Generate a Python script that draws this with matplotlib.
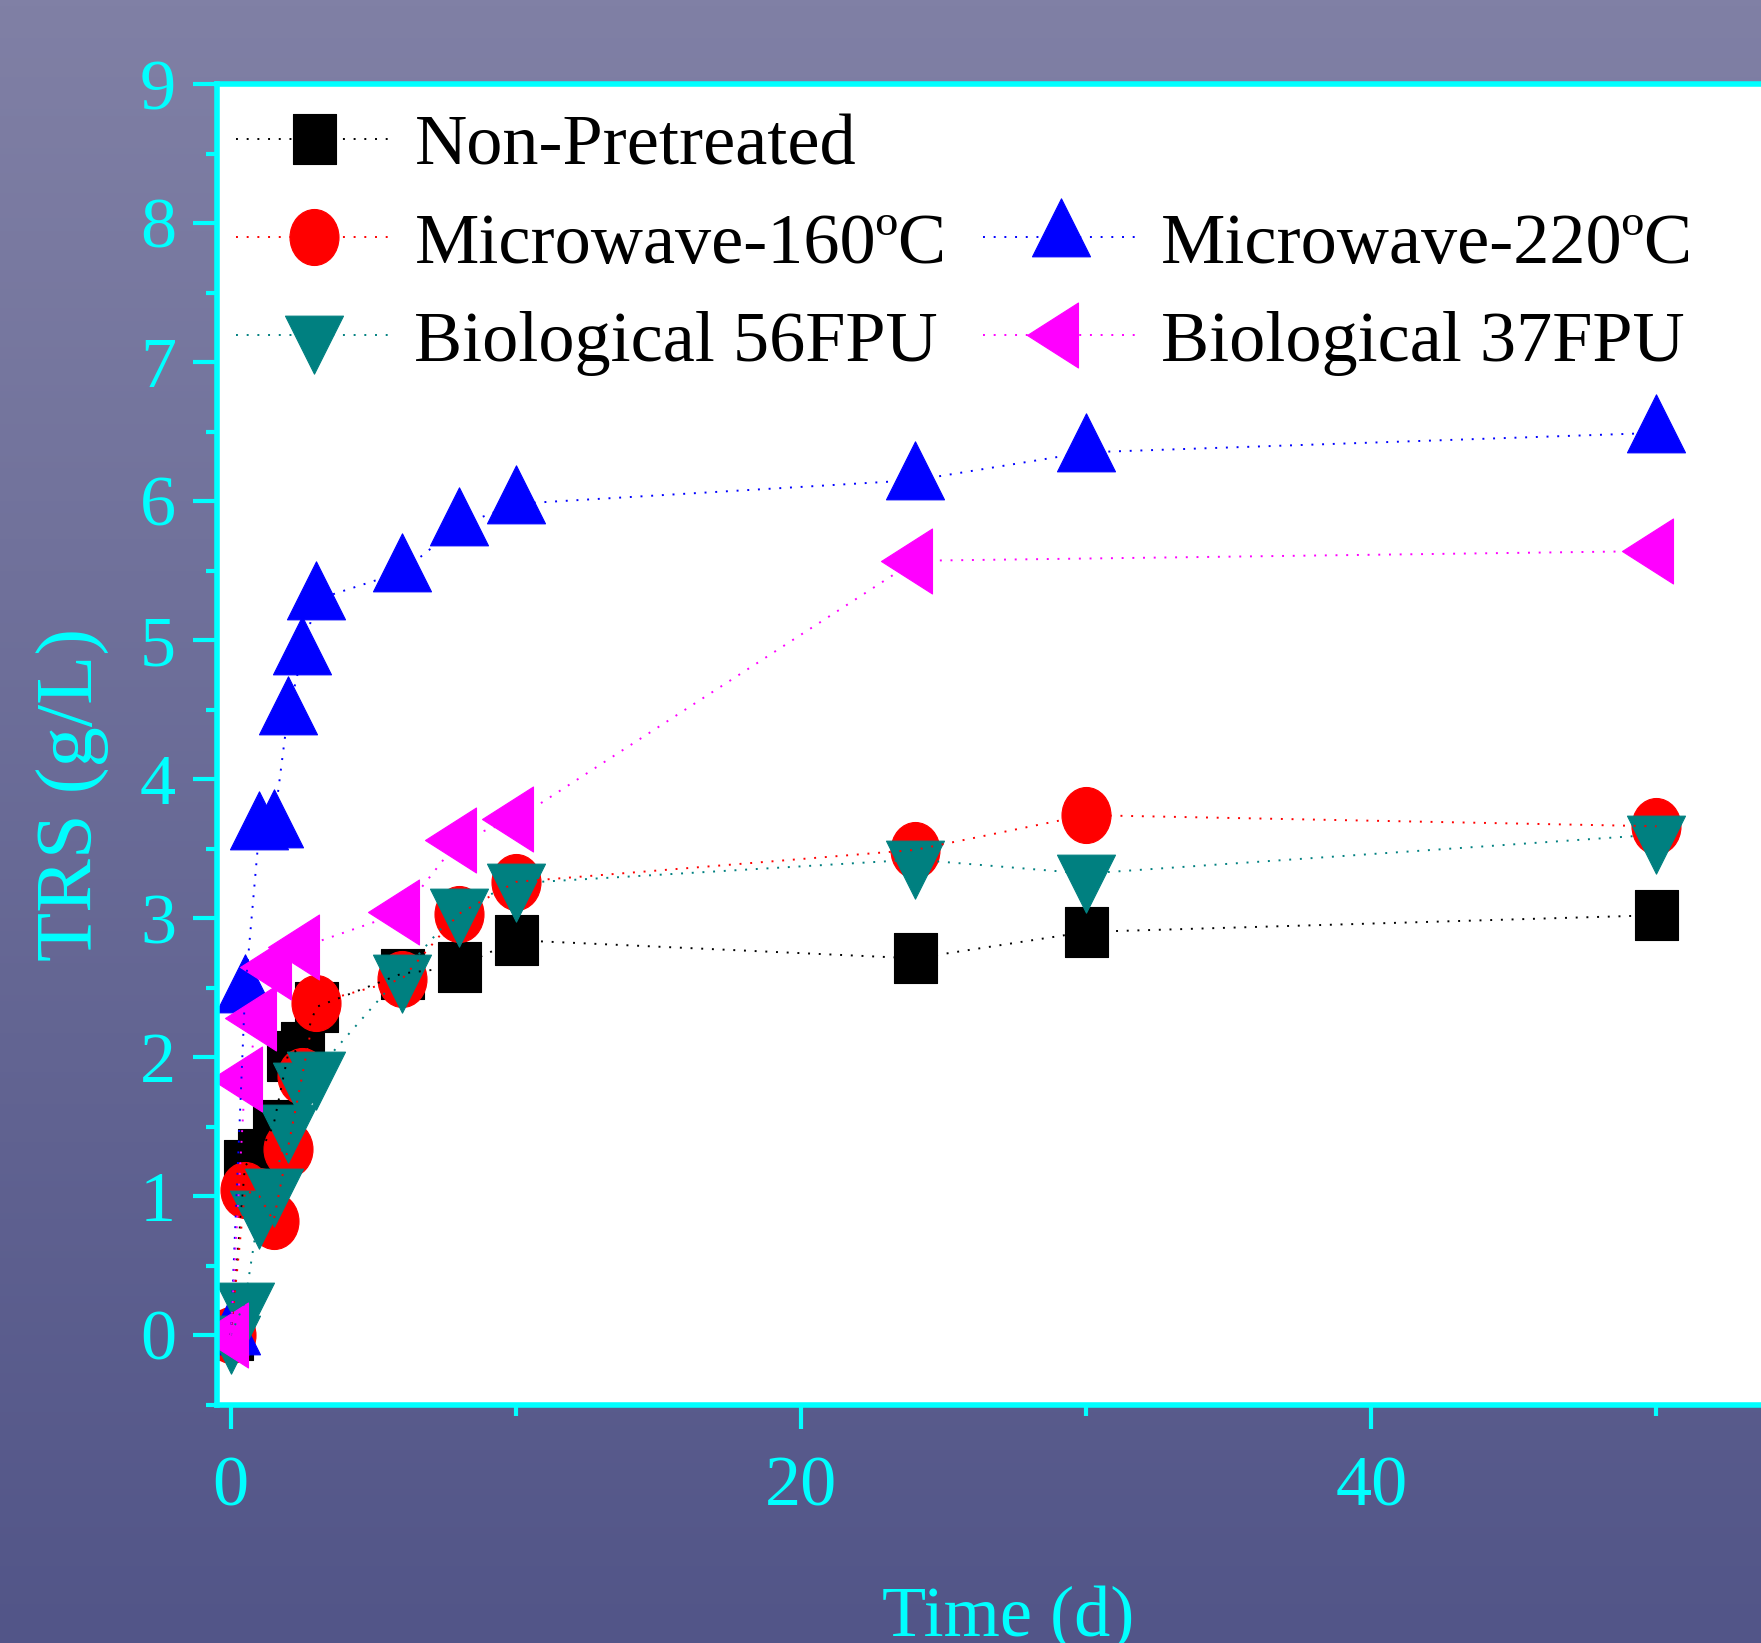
import numpy as np
import matplotlib
matplotlib.use("Agg")
import matplotlib.pyplot as plt
from matplotlib.path import Path
from matplotlib.lines import Line2D
from matplotlib.ticker import MultipleLocator

plt.rcParams["font.family"] = ["Liberation Serif", "DejaVu Serif"]

# values: time (d) vs TRS (g/L)
days = [0, 0.5, 1, 1.5, 2, 2.5, 3, 6, 8, 10, 24, 30, 50]
non_pretreated = [0, 1.22, 1.30, 1.51, 2.01, 2.07, 2.36, 2.60, 2.65, 2.84, 2.71, 2.90, 3.02]
microwave_160 = [0, 1.04, 1.00, 0.82, 1.34, 1.86, 2.39, 2.56, 3.03, 3.26, 3.49, 3.74, 3.66]
microwave_220 = [0, 2.46, 3.63, 3.65, 4.46, 4.89, 5.29, 5.49, 5.82, 5.98, 6.15, 6.35, 6.49]
bio_56 = [0, 0.24, 0.90, 1.06, 1.52, 1.82, 1.90, 2.60, 3.07, 3.25, 3.42, 3.32, 3.60]
days_bio_37 = [0, 0.5, 1, 1.5, 2.5, 6, 8, 10, 24, 50]
bio_37 = [0, 1.84, 2.28, 2.65, 2.79, 3.04, 3.56, 3.71, 5.57, 5.64]

labels = ["Non-Pretreated", "Microwave-160ºC", "Microwave-220ºC",
          "Biological 56FPU", "Biological 37FPU"]

CYAN = "#00FFFF"
DPI = 100
PT = 72 / DPI  # points per pixel


def poly(verts):
    v = np.asarray(verts, float)
    return Path(np.vstack([v, v[:1]]), closed=True)


def msize(path):
    return 2 * np.abs(path.vertices).max() * PT


# Origin-like markers (pixel units), triangles centred on their centroid
circ = Path.unit_circle()
m_square = poly([(-21.5, -25), (21.5, -25), (21.5, 25), (-21.5, 25)])
m_circle = Path(circ.vertices * [24.5, 28], circ.codes)
m_up = poly([(0, 2 * 58 / 3), (-29, -58 / 3), (29, -58 / 3)])
m_down = poly([(0, -2 * 58 / 3), (-29, 58 / 3), (29, 58 / 3)])
m_left = poly([(-2 * 51 / 3, 0), (51 / 3, -32.5), (51 / 3, 32.5)])

series = [
    (days, non_pretreated, "#000000", m_square),
    (days, microwave_160, "#FF0000", m_circle),
    (days, microwave_220, "#0000FF", m_up),
    (days, bio_56, "#008080", m_down),
    (days_bio_37, bio_37, "#FF00FF", m_left),
]

fig = plt.figure(figsize=(1761 / DPI, 1643 / DPI), dpi=DPI)

# gradient background
bg = fig.add_axes([0, 0, 1, 1], zorder=-10)
top = np.array([128, 128, 165]) / 255
bot = np.array([82, 85, 136]) / 255
t = np.linspace(0, 1, 256)[:, None, None]
bg.imshow(top + (bot - top) * t, aspect="auto", extent=[0, 1, 0, 1])
bg.axis("off")

ax = fig.add_axes([216.5 / 1761, 1 - 1404.5 / 1643, 1582.5 / 1761, 1320.5 / 1643])
ax.set_facecolor("white")

handles = []
for x, y, col, mk in series:
    mk_art, = ax.plot(x, y, ls="none", marker=mk, ms=msize(mk), mfc=col, mec=col,
                      mew=0.8, zorder=3)
    ln_art, = ax.plot(x, y, ls=(0, (1, 4.5)), lw=1.4, color=col, zorder=4)
    handles.append((ln_art, mk_art))

ax.set_xlim(-0.5, 55)
ax.set_ylim(-0.5, 9)
ax.xaxis.set_major_locator(MultipleLocator(20))
ax.xaxis.set_minor_locator(MultipleLocator(10))
ax.yaxis.set_major_locator(MultipleLocator(1))
ax.yaxis.set_minor_locator(MultipleLocator(0.5))

for side in ["left", "bottom", "top"]:
    ax.spines[side].set_color(CYAN)
    ax.spines[side].set_linewidth(4)
    ax.spines[side].set_zorder(5)
ax.spines["right"].set_visible(False)

ax.tick_params(which="both", direction="out", colors=CYAN, labelsize=52,
               top=False, right=False)
ax.tick_params(which="major", length=17, width=3)
ax.tick_params(which="minor", length=8, width=3)
ax.tick_params(axis="x", which="major", pad=20)
ax.tick_params(axis="y", which="major", pad=12)

ax.set_xlabel("Time (d)", fontsize=52, color=CYAN, va="top")
ax.xaxis.set_label_coords(0.5, -0.137)
ax.set_ylabel("TRS (g/L)", fontsize=58, color=CYAN, va="center")
ax.yaxis.set_label_coords(-0.0907, 0.4623)

blank = Line2D([], [], ls="none")
leg_h = [handles[0], handles[1], handles[3], blank, handles[2], handles[4]]
leg_l = [labels[0], labels[1], labels[3], "", labels[2], labels[4]]
ax.legend(leg_h, leg_l, ncol=2, loc="upper left",
          bbox_to_anchor=(236 / 1761, 1 - 114 / 1643), bbox_transform=fig.transFigure,
          frameon=False, fontsize=52, handlelength=2.17, handletextpad=0.3,
          columnspacing=0.5, labelspacing=0.45, borderpad=0, borderaxespad=0,
          numpoints=1)

fig.savefig("out.png", dpi=DPI)
